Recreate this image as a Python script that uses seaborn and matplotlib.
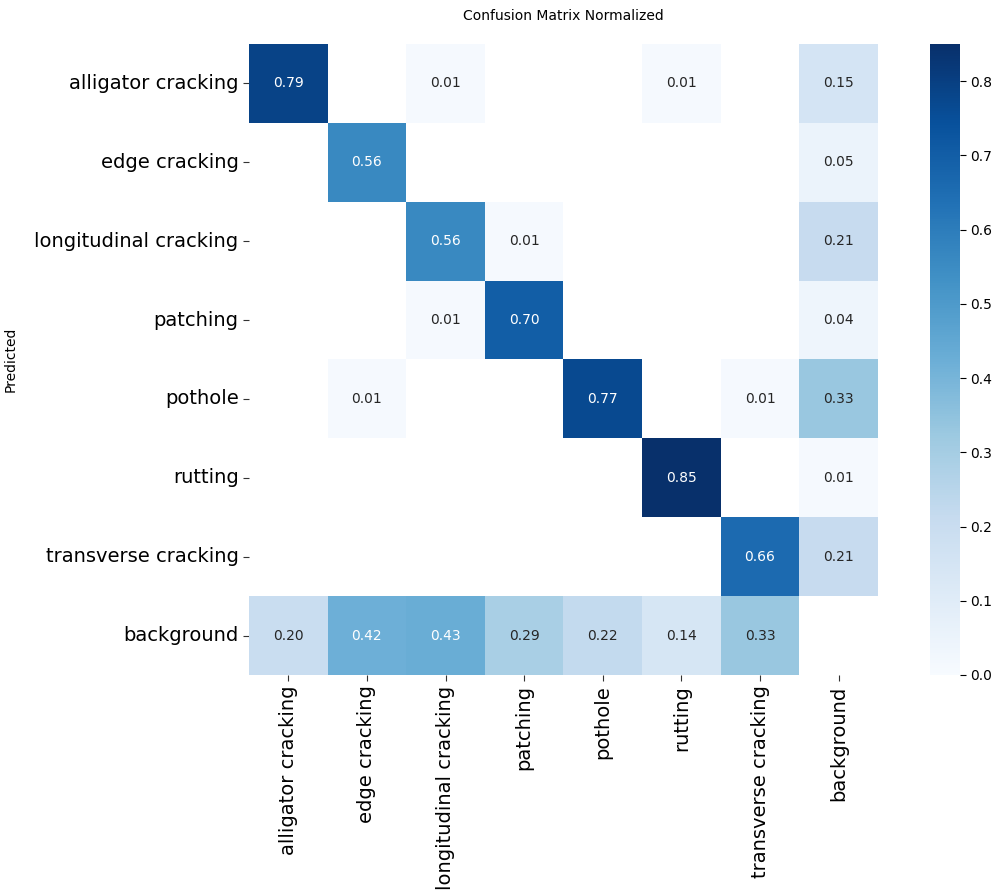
import numpy as np
import pandas as pd
import matplotlib
matplotlib.use("Agg")
import matplotlib.pyplot as plt
import seaborn as sns

classes = ["alligator cracking", "edge cracking", "longitudinal cracking", "patching",
           "pothole", "rutting", "transverse cracking", "background"]

# rows: predicted class, columns: true class (normalized per true class)
row_alligator = [0.79, 0.00, 0.01, 0.00, 0.00, 0.01, 0.00, 0.15]
row_edge = [0.00, 0.56, 0.00, 0.00, 0.00, 0.00, 0.00, 0.05]
row_longitudinal = [0.00, 0.00, 0.56, 0.01, 0.00, 0.00, 0.00, 0.21]
row_patching = [0.00, 0.00, 0.01, 0.70, 0.00, 0.00, 0.00, 0.04]
row_pothole = [0.00, 0.01, 0.00, 0.00, 0.77, 0.00, 0.01, 0.33]
row_rutting = [0.00, 0.00, 0.00, 0.00, 0.00, 0.85, 0.00, 0.01]
row_transverse = [0.00, 0.00, 0.00, 0.00, 0.00, 0.00, 0.66, 0.21]
row_background = [0.20, 0.42, 0.43, 0.29, 0.22, 0.14, 0.33, 0.00]

matrix = np.array([row_alligator, row_edge, row_longitudinal, row_patching,
                   row_pothole, row_rutting, row_transverse, row_background])
# empty cells are left blank
matrix[matrix < 0.005] = np.nan
df = pd.DataFrame(matrix, index=classes, columns=classes)

sns.set_theme(style="white")
plt.rcParams["font.family"] = ["DejaVu Sans"]
plt.rcParams["text.color"] = "black"
plt.rcParams["axes.labelcolor"] = "black"
plt.rcParams["xtick.color"] = "black"
plt.rcParams["ytick.color"] = "black"

fig = plt.figure(figsize=(9.97, 8.92), dpi=100)
ax = fig.add_axes([0.2497, 0.2433, 0.6309, 0.7074])
cax = fig.add_axes([0.9328, 0.2433, 0.0301, 0.7074])

sns.heatmap(df, ax=ax, cbar_ax=cax, cmap="Blues", vmin=0.0, annot=True,
            fmt=".2f", annot_kws={"size": 10}, square=False,
            xticklabels=classes, yticklabels=classes)

ax.set_title("Confusion Matrix Normalized", fontsize=10, pad=17)
ax.set_ylabel("Predicted", fontsize=10, labelpad=12)
ax.set_xlabel("")
ax.tick_params(axis="both", which="both", length=4, width=0.8, color="#333333",
               labelsize=14, left=True, bottom=True)
plt.setp(ax.get_xticklabels(), rotation=90)
plt.setp(ax.get_yticklabels(), rotation=0)
cax.tick_params(labelsize=10, length=4, width=0.8, right=True)
cax.set_yticks([0.0, 0.1, 0.2, 0.3, 0.4, 0.5, 0.6, 0.7, 0.8])

fig.savefig("out.png", dpi=100, facecolor="white")
